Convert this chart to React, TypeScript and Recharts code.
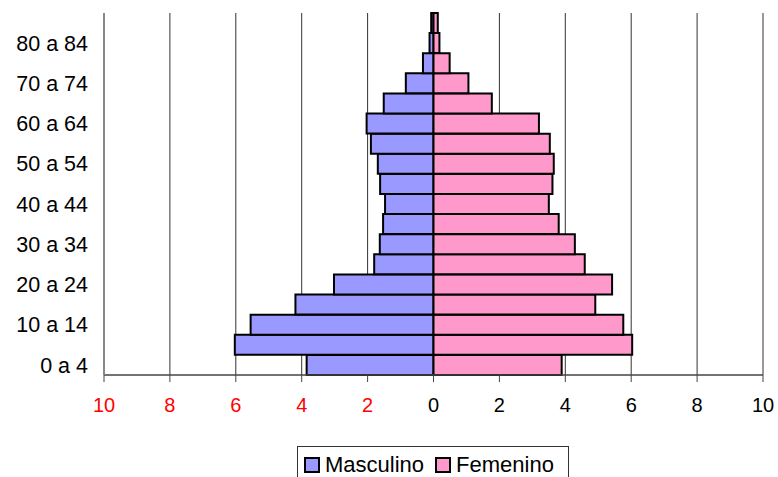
import React from 'react';
import {
  BarChart,
  Bar,
  XAxis,
  YAxis,
  CartesianGrid,
  Legend,
} from 'recharts';

const ages = [
  '0 a 4', '5 a 9', '10 a 14', '15 a 19', '20 a 24', '25 a 29', '30 a 34', '35 a 39', '40 a 44',
  '45 a 49', '50 a 54', '55 a 59', '60 a 64', '65 a 69', '70 a 74', '75 a 79', '80 a 84', '85 y +',
];
const masculino = [3.85, 6.03, 5.55, 4.19, 3.02, 1.8, 1.63, 1.53, 1.47, 1.62, 1.69, 1.9, 2.03, 1.51, 0.84, 0.32, 0.12, 0.07];
const femenino = [3.89, 6.03, 5.76, 4.91, 5.42, 4.59, 4.29, 3.8, 3.5, 3.61, 3.65, 3.53, 3.2, 1.77, 1.06, 0.49, 0.18, 0.13];
const xTicks = [-10, -8, -6, -4, -2, 0, 2, 4, 6, 8, 10];
const seriesNames = ['Masculino', 'Femenino'];
const seriesColors = ['#9999FF', '#FF99CC'];

const data = ages.map((age, i) => ({
  age,
  masculino: -masculino[i],
  femenino: femenino[i],
}));

const FONT = '"Liberation Sans", Arial, sans-serif';

const XTick = (props: any) => {
  const { x, y, payload } = props;
  const v = payload.value as number;
  return (
    <text x={x} y={y} dy="0.71em" textAnchor="middle" fill={v < 0 ? '#FF0000' : '#000000'} fontSize={20} fontFamily={FONT}>
      {Math.abs(v)}
    </text>
  );
};

const YTick = (props: any) => {
  const { x, y, payload } = props;
  return (
    <text x={x} y={y} dy="0.355em" textAnchor="end" fill="#000000" fontSize={21.5} fontFamily={FONT}>
      {payload.value}
    </text>
  );
};

const LegendBox = () => (
  <div
    style={{
      boxSizing: 'border-box',
      width: 272,
      height: 32,
      border: '1px solid #333',
      background: '#fff',
      display: 'flex',
      alignItems: 'center',
      paddingTop: 6,
      paddingLeft: 6,
      fontFamily: FONT,
      fontSize: 22,
      lineHeight: 1,
      color: '#000',
    }}
  >
    {seriesNames.map((n, i) => (
      <span key={n} style={{ display: 'inline-flex', alignItems: 'center', marginRight: i === 0 ? 11 : 0 }}>
        <span
          style={{
            display: 'inline-block',
            boxSizing: 'border-box',
            width: 16,
            height: 16,
            border: '2px solid #000',
            background: seriesColors[i],
            marginRight: 5,
          }}
        />
        <span>{n}</span>
      </span>
    ))}
  </div>
);

export default function App() {
  return (
    <div style={{ position: 'absolute', left: 8, top: 8, width: 770, height: 469, overflow: 'hidden' }}>
      <BarChart
        width={770}
        height={469}
        data={data}
        layout="vertical"
        stackOffset="sign"
        barCategoryGap={0}
        margin={{ top: 5, right: 15, left: 0, bottom: 0 }}
      >
        <CartesianGrid horizontal={false} vertical stroke="#333" strokeWidth={1} />
        <XAxis
          type="number"
          domain={[-10, 10]}
          ticks={xTicks}
          interval={0}
          height={102}
          tickSize={7}
          tickMargin={16}
          tick={<XTick />}
          axisLine={{ stroke: '#444', strokeWidth: 1.5 }}
          tickLine={{ stroke: '#444' }}
        />
        <XAxis
          xAxisId="top"
          orientation="top"
          type="number"
          domain={[-10, 10]}
          height={0}
          tick={false}
          tickLine={false}
          axisLine={{ stroke: '#888', strokeWidth: 2 }}
        />
        <YAxis
          type="category"
          dataKey="age"
          reversed
          interval={1}
          width={96}
          tickSize={0}
          tickMargin={16}
          tick={<YTick />}
          tickLine={false}
          axisLine={{ stroke: '#888', strokeWidth: 2 }}
        />
        <YAxis
          yAxisId="right"
          orientation="right"
          type="category"
          dataKey="age"
          reversed
          width={0}
          tick={false}
          tickLine={false}
          axisLine={{ stroke: '#888', strokeWidth: 2 }}
        />
        <Bar dataKey="masculino" name="Masculino" stackId="a" fill={seriesColors[0]} stroke="#000" strokeWidth={2} isAnimationActive={false} />
        <Bar dataKey="femenino" name="Femenino" stackId="a" fill={seriesColors[1]} stroke="#000" strokeWidth={2} isAnimationActive={false} />
        <Legend
          layout="horizontal"
          verticalAlign="middle"
          align="center"
          content={<LegendBox />}
          wrapperStyle={{ position: 'absolute', left: 289, top: 438, width: 272, height: 32 }}
        />
      </BarChart>
    </div>
  );
}
